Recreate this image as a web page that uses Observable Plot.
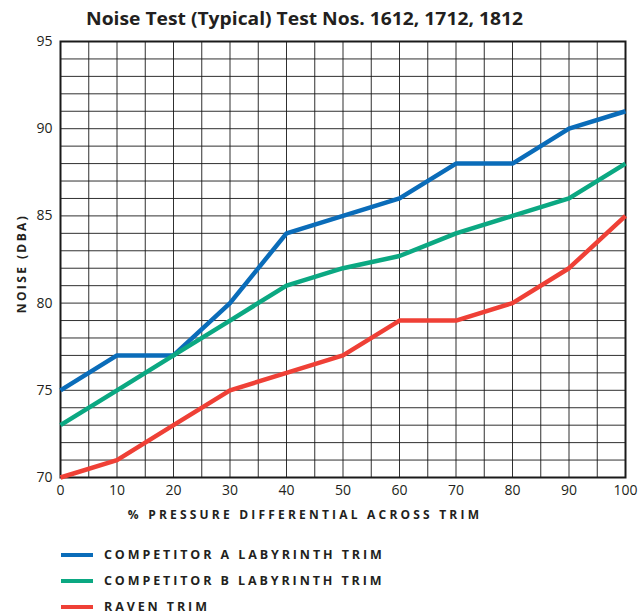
<!DOCTYPE html>
<html>
<head>
<meta charset="utf-8">
<script src="https://cdn.jsdelivr.net/npm/d3@7"></script>
<script src="https://cdn.jsdelivr.net/npm/@observablehq/plot@0.6"></script>
<style>
  html, body { margin: 0; padding: 0; background: #fff; }
  #wrap { width: 640px; font-family: "Open Sans", sans-serif; color: #231f20; }
  #title { height: 30px; position: relative; }
  #title svg { position: absolute; left: 0; top: 0; overflow: visible; }
  #legend { position: relative; height: 86px; }
  .item { position: absolute; left: 61px; display: flex; align-items: center; }
  .swatch { width: 32px; height: 4px; margin-right: 11px; }
  .lab { font-weight: 700; font-size: 12.5px; letter-spacing: 2.9px; color: #231f20; white-space: nowrap; }
</style>
</head>
<body>
<div id="wrap">
  <div id="title"></div>
  <div id="chart"></div>
  <div id="legend"></div>
</div>
<script>
const titleText = "Noise Test (Typical) Test Nos. 1612, 1712, 1812";
const xLabel = "% PRESSURE DIFFERENTIAL ACROSS TRIM";
const yLabel = "NOISE (DBA)";
const pressure = [0, 10, 20, 30, 40, 50, 60, 70, 80, 90, 100];
const competitorA = [75, 77, 77, 80, 84, 85, 86, 88, 88, 90, 91];
const competitorB = [73, 75, 77, 79, 81, 82, 82.7, 84, 85, 86, 88];
const ravenTrim = [70, 71, 73, 75, 76, 77, 79, 79, 80, 82, 85];
const seriesNames = ["COMPETITOR A LABYRINTH TRIM", "COMPETITOR B LABYRINTH TRIM", "RAVEN TRIM"];
const seriesColors = ["#0a6cb9", "#0ba882", "#ef4036"];
const xTicks = [0, 10, 20, 30, 40, 50, 60, 70, 80, 90, 100];
const yTicks = [70, 75, 80, 85, 90, 95];

const seriesValues = [competitorA, competitorB, ravenTrim];
const rows = [];
seriesNames.forEach((name, i) => {
  pressure.forEach((p, j) => rows.push({series: name, x: p, y: seriesValues[i][j]}));
});

// Title
const tsvg = d3.select("#title").append("svg").attr("width", 640).attr("height", 34);
tsvg.append("text")
  .attr("x", 86).attr("y", 25)
  .attr("textLength", 437).attr("lengthAdjust", "spacingAndGlyphs")
  .attr("font-family", "'Open Sans', sans-serif")
  .attr("font-weight", 700).attr("font-size", 18)
  .attr("fill", "#231f20")
  .text(titleText);

const chart = Plot.plot({
  width: 640,
  height: 500,
  marginLeft: 60,
  marginRight: 15,
  marginTop: 11,
  marginBottom: 53,
  style: {fontFamily: "'Open Sans', sans-serif", fontSize: "14px", color: "#231f20", background: "#fff"},
  x: {domain: [0, 100]},
  y: {domain: [70, 95]},
  color: {domain: seriesNames, range: seriesColors},
  marks: [
    Plot.gridX({ticks: 20, stroke: "#1a1a1a", strokeOpacity: 0.9, strokeWidth: 1}),
    Plot.gridY({ticks: 25, stroke: "#1a1a1a", strokeOpacity: 0.9, strokeWidth: 1}),
    Plot.frame({stroke: "#1a1a1a", strokeWidth: 2}),
    Plot.axisX(xTicks, {tickSize: 0, tickPadding: 8, label: null, fontSize: 14}),
    Plot.axisY(yTicks, {tickSize: 0, tickPadding: 8, label: null, fontSize: 14}),
    Plot.line(rows, {x: "x", y: "y", z: "series", stroke: "series", strokeWidth: 4.5, strokeLinejoin: "miter", strokeLinecap: "butt"}),
    Plot.text([xLabel], {text: d => d, frameAnchor: "bottom", textAnchor: "middle", dx: -38, dy: 41, fontWeight: 700, fontSize: 12, fill: "#231f20"}),
    Plot.text([yLabel], {text: d => d, frameAnchor: "left", textAnchor: "middle", dx: -38, dy: 4, rotate: -90, fontWeight: 700, fontSize: 12, fill: "#231f20"})
  ]
});
d3.select(chart).selectAll("text").filter(function() {
  return this.textContent === xLabel;
}).attr("letter-spacing", "3.2px");
d3.select(chart).selectAll("text").filter(function() {
  return this.textContent === yLabel;
}).attr("letter-spacing", "2.4px");
document.getElementById("chart").appendChild(chart);

// Legend
const legend = d3.select("#legend");
seriesNames.forEach((name, i) => {
  const item = legend.append("div").attr("class", "item").style("top", (16 + i * 26) + "px");
  item.append("div").attr("class", "swatch").style("background", seriesColors[i]);
  item.append("div").attr("class", "lab").text(name);
});
</script>
</body>
</html>
